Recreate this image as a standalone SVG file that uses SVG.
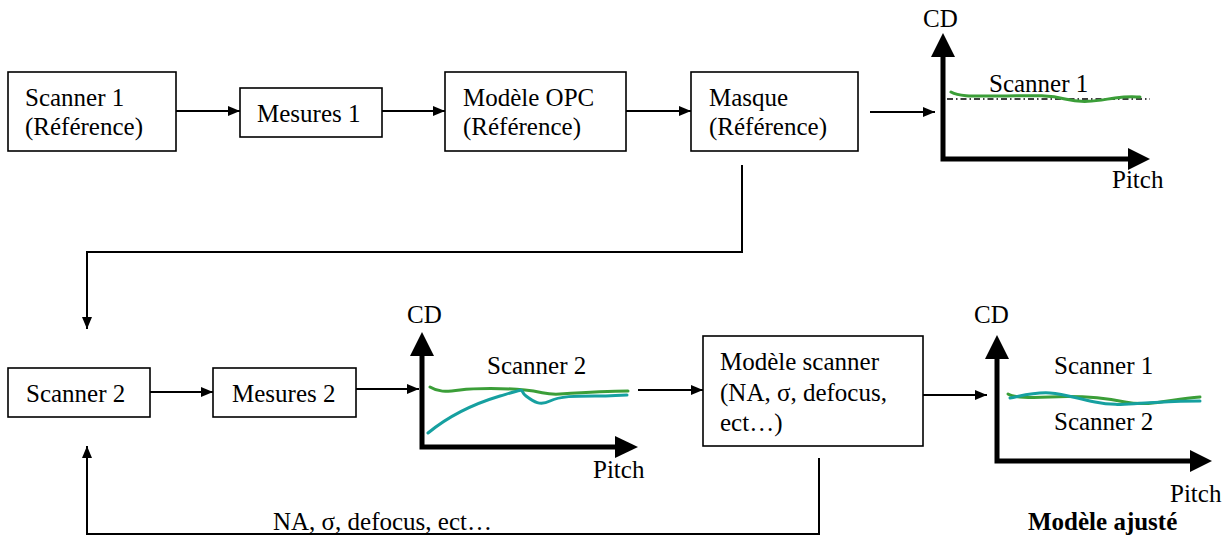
<svg xmlns="http://www.w3.org/2000/svg" width="1231" height="538" viewBox="0 0 1231 538">
<defs>
<style>
text{font-family:"Liberation Serif","Times New Roman",serif;font-size:25px;fill:#000}
.b{font-weight:bold}
.box{fill:#fff;stroke:#000;stroke-width:1.6}
.ln{fill:none;stroke:#000;stroke-width:2}
.ax{fill:none;stroke:#000;stroke-width:5}
.g{fill:none;stroke:#3b9e38;stroke-width:3;stroke-linecap:round}
.t{fill:none;stroke:#16a0a0;stroke-width:3;stroke-linecap:round}
.dd{fill:none;stroke:#000;stroke-width:1.3;stroke-dasharray:6 3 1.5 3}
</style>
<marker id="ah" viewBox="0 0 12 10" refX="12" refY="5" markerWidth="12" markerHeight="10" markerUnits="userSpaceOnUse" orient="auto">
<path d="M0,0L12,5L0,10z" fill="#000"/>
</marker>
</defs>
<rect width="1231" height="538" fill="#fff"/>

<g id="connectors">
<line class="ln" x1="176" y1="111" x2="240" y2="111" marker-end="url(#ah)"/>
<line class="ln" x1="382" y1="111" x2="445" y2="111" marker-end="url(#ah)"/>
<line class="ln" x1="626" y1="111" x2="691" y2="111" marker-end="url(#ah)"/>
<line class="ln" x1="870" y1="112" x2="935" y2="112" marker-end="url(#ah)"/>
<polyline class="ln" points="742,165 742,252 87,252 87,329" marker-end="url(#ah)"/>
<line class="ln" x1="150" y1="392" x2="213" y2="392" marker-end="url(#ah)"/>
<line class="ln" x1="356" y1="389" x2="419" y2="389" marker-end="url(#ah)"/>
<line class="ln" x1="638" y1="390" x2="703" y2="390" marker-end="url(#ah)"/>
<line class="ln" x1="923" y1="395" x2="987" y2="395" marker-end="url(#ah)"/>
<polyline class="ln" points="819,458 819,534 87,534 87,446" marker-end="url(#ah)"/>
<text x="273" y="530">NA, σ, defocus, ect…</text>
</g>

<g id="scanner1">
<rect class="box" x="8" y="72" width="168" height="79"/>
<text x="25" y="106">Scanner 1</text>
<text x="25" y="135">(Référence)</text>
</g>
<g id="mesures1">
<rect class="box" x="240" y="88" width="142" height="49"/>
<text x="257" y="122">Mesures 1</text>
</g>
<g id="modele-opc">
<rect class="box" x="445" y="72" width="181" height="79"/>
<text x="463" y="106">Modèle OPC</text>
<text x="463" y="135">(Référence)</text>
</g>
<g id="masque">
<rect class="box" x="691" y="72" width="167" height="79"/>
<text x="709" y="106">Masque</text>
<text x="709" y="135">(Référence)</text>
</g>

<g id="graph1">
<polyline class="ax" points="943,55 943,159 1130,159"/>
<path d="M943,33L955,57L931,57z" fill="#000"/>
<path d="M1150,159L1128,148L1128,170z" fill="#000"/>
<text x="923" y="27">CD</text>
<text x="1112" y="188">Pitch</text>
<line class="dd" x1="947" y1="99" x2="1150" y2="99"/>
<path class="g" d="M951,92 C960,97 975,96 1000,96 S1045,94 1065,99 S1100,100 1115,98 S1135,97 1140,97"/>
<text x="989" y="92">Scanner 1</text>
</g>

<g id="scanner2">
<rect class="box" x="8" y="368" width="142" height="49"/>
<text x="26" y="402">Scanner 2</text>
</g>
<g id="mesures2">
<rect class="box" x="213" y="368" width="143" height="49"/>
<text x="232" y="402">Mesures 2</text>
</g>

<g id="graph2">
<polyline class="ax" points="422,354 422,447 617,447"/>
<path d="M422,332L434,356L410,356z" fill="#000"/>
<path d="M638,447L615,436L615,458z" fill="#000"/>
<text x="407" y="323">CD</text>
<text x="593" y="478">Pitch</text>
<text x="487" y="374">Scanner 2</text>
<path class="g" d="M430,387 C438,392 445,392 460,390 S505,388 525,390 S545,395 560,394 S605,391 628,391"/>
<path class="t" d="M428,433 C445,419 470,405 500,396 S518,390 526,396 S540,406 550,401 S575,396 595,396 S615,395 627,395"/>
</g>

<g id="modele-scanner">
<rect class="box" x="703" y="336" width="220" height="110"/>
<text x="720" y="370">Modèle scanner</text>
<text x="720" y="401">(NA, σ, defocus,</text>
<text x="720" y="431">ect…)</text>
</g>

<g id="graph3">
<polyline class="ax" points="997,357 997,461 1192,461"/>
<path d="M997,335L1009,359L985,359z" fill="#000"/>
<path d="M1212,461L1190,450L1190,472z" fill="#000"/>
<text x="974" y="323">CD</text>
<text x="1054" y="374">Scanner 1</text>
<text x="1054" y="430">Scanner 2</text>
<text x="1170" y="502">Pitch</text>
<text class="b" x="1028" y="530">Modèle ajusté</text>
<path class="g" d="M1008,394 C1014,398 1030,398 1050,397 S1100,397 1125,402 S1170,399 1200,397"/>
<path class="t" d="M1010,398 C1025,395 1035,392 1050,393 S1075,398 1095,402 S1125,404 1145,403 S1180,401 1200,401"/>
</g>
</svg>
